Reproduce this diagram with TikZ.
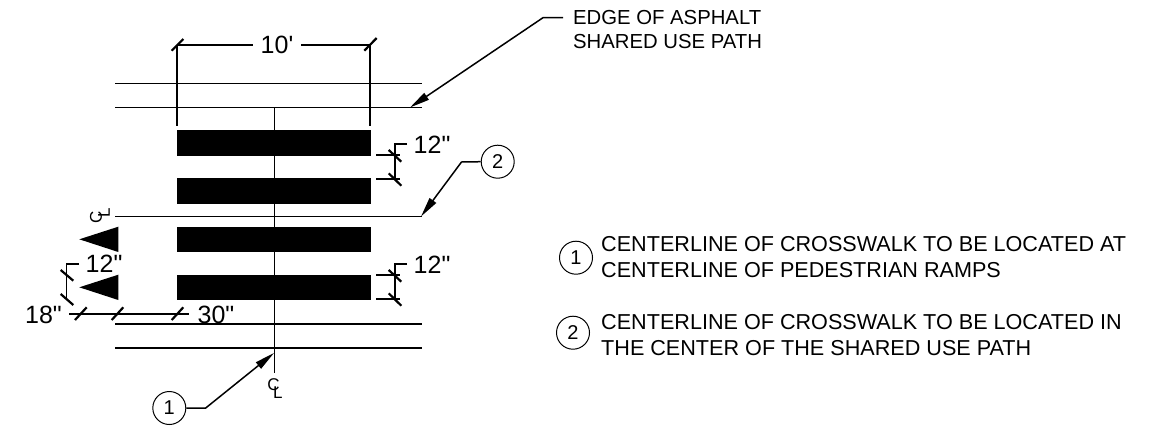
\documentclass[tikz,border=0pt]{standalone}
\usepackage{fontspec}
\setmainfont{Liberation Sans}[Ligatures=TeXOff]
\usetikzlibrary{arrows.meta}
\tikzset{
  x=1pt,y=-1pt,
  road/.style={line width=1.4pt},
  dimline/.style={line width=1.4pt},
  tick/.style={line width=2.2pt},
  cline/.style={line width=1pt},
  bar/.style={fill=black,draw=none},
  dimtext/.style={font=\fontsize{25}{25}\selectfont,inner sep=0pt},
  notetext/.style={font=\fontsize{21.6}{26}\selectfont,inner sep=0pt,align=left,anchor=west},
  edgetext/.style={font=\fontsize{20.3}{24}\selectfont,inner sep=0pt,align=left,anchor=west},
  clsym/.style={font=\fontsize{17}{17}\selectfont,inner sep=0pt},
  bubble/.style={circle,draw,line width=1pt,minimum size=33pt,inner sep=0pt,font=\fontsize{20}{20}\selectfont},
  leader/.style={line width=1.5pt,-{Triangle[length=20pt,width=8pt]}},
}
\newcommand{\clmark}{C\kern-6.5pt\raisebox{-8pt}{L}}
\begin{document}
\begin{tikzpicture}
\useasboundingbox (0,0) rectangle (1161,429);
% road edges
\coordinate (rA1) at (115,83.5); \coordinate (rA2) at (422,83.5);
\coordinate (rB1) at (115,107.5); \coordinate (rB2) at (422,107.5);
\coordinate (rC1) at (115,324); \coordinate (rC2) at (422,324);
\coordinate (rD1) at (115,348); \coordinate (rD2) at (422,348);
\draw[road] (rA1)--(rA2); \draw[road] (rB1)--(rB2);
\draw[road] (rC1)--(rC2); \draw[road] (rD1)--(rD2);
% centerlines
\coordinate (cvT) at (274,108); \coordinate (cvB) at (274,373);
\coordinate (chL) at (115,216); \coordinate (chR) at (422,216);
\draw[cline] (cvT)--(cvB);
\draw[cline] (chL)--(chR);
% bars
\fill[bar] (177,130) rectangle (371,156);
\fill[bar] (177,178) rectangle (371,204);
\fill[bar] (177,227) rectangle (371,252);
\fill[bar] (177,275) rectangle (371,300);
% triangles
\fill[bar] (79.3,239.3)--(118.3,226.7)--(118.3,252)--cycle;
\fill[bar] (79.3,287.3)--(118.3,274.7)--(118.3,300)--cycle;
% 10' dim
\draw[dimline] (177,45)--(177,126);
\draw[dimline] (370,45)--(370,126);
\node[dimtext] (ten) at (277,45) {10'};
\draw[dimline] (177,45)--(253,45);
\draw[dimline] (301,45)--(370,45);
\draw[tick] (171.7,50.7)--(183.3,39);
\draw[tick] (364.3,50.7)--(376.7,38);
% right 12" upper
\draw[dimline] (407,144)--(395,144)--(395,180);
\draw[dimline] (376,155)--(400,155);
\draw[dimline] (376,179)--(400,179);
\draw[tick] (388.7,150)--(401.3,161.7);
\draw[tick] (388.7,173.3)--(401.3,185.7);
\node[dimtext,anchor=west] (twa) at (413.5,145) {12"};
% right 12" lower
\draw[dimline] (407,264)--(395,264)--(395,300);
\draw[dimline] (376,275)--(400,275);
\draw[dimline] (376,299)--(400,299);
\draw[tick] (388.7,270)--(401.3,281.7);
\draw[tick] (388.7,293.3)--(401.3,305.7);
\node[dimtext,anchor=west] (twb) at (413.5,265) {12"};
% left 12"
\draw[dimline] (79,264)--(66.7,264)--(66.7,300);
\draw[tick] (60.7,270)--(73.3,280.7);
\draw[tick] (60.7,294)--(73.3,305);
\node[dimtext,anchor=west] (twc) at (85.5,264) {12"};
% bottom dims
\draw[dimline] (69,314)--(189,314);
\draw[tick] (75,320)--(86.7,307.3);
\draw[tick] (111.7,320)--(123.3,307.3);
\draw[tick] (171.7,320)--(183.3,307.3);
\node[dimtext] (ei) at (43.5,315) {18"};
\node[dimtext] (th) at (216,315) {30"};
% CL symbols
\node[clsym] (cb) at (275,389) {\clmark};
\node[clsym,rotate=90] (cl) at (100,216) {\clmark};
% bubbles and leaders
\node[bubble] (b1) at (169.3,408) {1};
\coordinate (k1) at (205.7,408);
\coordinate (t1) at (274,353);
\draw[leader] (b1.east)--(k1)--(t1);
\node[bubble] (b2) at (497.7,161.7) {2};
\coordinate (k2) at (461.5,162);
\coordinate (t2) at (421,216.5);
\draw[leader] (b2.west)--(k2)--(t2);
% edge of asphalt
\coordinate (k3s) at (563,17.7);
\coordinate (k3) at (543,17.7);
\coordinate (t3) at (410,107.5);
\draw[leader] (k3s)--(k3)--(t3);
\node[edgetext] (n0) at (573,29.7) {EDGE OF ASPHALT\\SHARED USE PATH};
% notes
\node[bubble] (n1b) at (576,257.7) {1};
\node[notetext] (n1) at (601,257) {CENTERLINE OF CROSSWALK TO BE LOCATED AT\\CENTERLINE OF PEDESTRIAN RAMPS};
\node[bubble] (n2b) at (573,332.7) {2};
\node[notetext] (n2) at (601,335) {CENTERLINE OF CROSSWALK TO BE LOCATED IN\\THE CENTER OF THE SHARED USE PATH};
\end{tikzpicture}
\end{document}
